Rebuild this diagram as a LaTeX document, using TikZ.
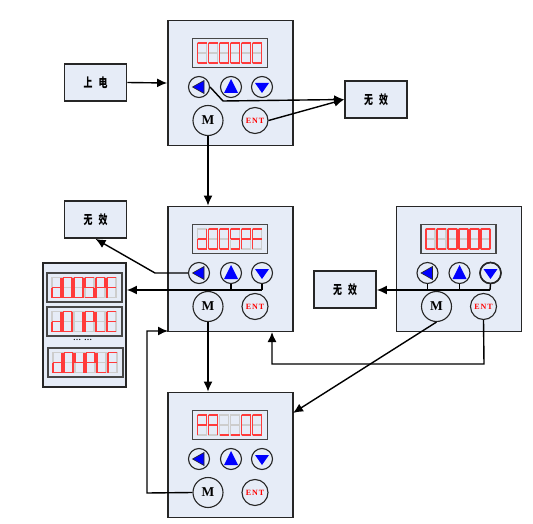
\documentclass[tikz,border=0pt]{standalone}
\usepackage{fontspec}
\usepackage{graphicx}
\setmainfont{Liberation Serif}
\newfontfamily\cjk{Noto Sans CJK SC}
\usetikzlibrary{arrows.meta,calc}
\definecolor{panelfill}{HTML}{E6ECF7}
\definecolor{edge}{HTML}{262626}
\definecolor{ghost}{HTML}{CDCDCD}
\definecolor{segred}{HTML}{FF3B3B}
\def\sega{(0,0)--(9,0)}
\def\segb{(9,0)--(9,10)}
\def\segc{(9,10)--(9,20)}
\def\segd{(0,20)--(9,20)}
\def\sege{(0,10)--(0,20)}
\def\segf{(0,0)--(0,10)}
\def\segg{(0,10)--(9,10)}
\newcommand{\cjktext}[2]{\scalebox{.85}[1.2]{#1}\hspace{6pt}\scalebox{.85}[1.2]{#2}\hspace{10pt}}
\tikzset{
  panelbox/.style={draw=edge,fill=panelfill,line width=1.8pt,minimum width=125pt,minimum height=125pt,inner sep=0pt},
  labelbox/.style={draw=edge,fill=panelfill,line width=1.8pt,minimum width=62pt,minimum height=37pt,inner sep=0pt,font=\cjk\bfseries\fontsize{10.5}{10.5}\selectfont},
  stackbox/.style={draw=edge,fill=panelfill,line width=1.8pt,minimum width=83pt,minimum height=124pt,inner sep=0pt},
  dispbox/.style={draw=edge!85,fill=panelfill,line width=1.3pt,minimum width=75pt,minimum height=29pt,inner sep=0pt},
  smallkey/.style={circle,draw=edge,line width=1.1pt,minimum size=21pt,inner sep=0pt},
  mkey/.style={circle,draw=edge,line width=1.1pt,minimum size=30pt,inner sep=0pt,font=\bfseries\fontsize{13.5}{13.5}\selectfont},
  entkey/.style={circle,draw=edge,line width=1.1pt,minimum size=26pt,inner sep=0pt,text=red,font=\bfseries\fontsize{8}{8}\selectfont},
  tri/.style={fill=blue,draw=none},
  segoff/.style={draw=ghost,line width=1.1pt},
  segon/.style={draw=segred,line width=1.2pt},
  wire/.style={draw=black,line width=1.4pt},
  arrowwire/.style={wire,-{Latex[length=10pt,width=9pt]}}
}
\newcommand{\dispunit}[4]{%
  \node[dispbox] (#1) at (#2+37.5,#3+14.5) {};
  \foreach \dg [count=\ix from 0] in {#4} {
    \begin{scope}[shift={(#2+5+\ix*11,#3+4.5)}]
      \draw[segoff] (0,0) rectangle (9,20) (0,10)--(9,10);
      \foreach \sg in \dg { \draw[segon] \csname seg\sg\endcsname; }
    \end{scope}
  }%
}
\newcommand{\panelunit}[4]{%
  \node[panelbox] (#1) at (#2+62.5,#3+62) {};
  \dispunit{#1d}{#2+24.5}{#3+17.5}{#4}
  \node[smallkey] (#1L) at (#2+31,#3+66) {};
  \node[smallkey] (#1U) at (#2+63,#3+66) {};
  \node[smallkey] (#1D) at (#2+94,#3+66) {};
  \node[mkey] (#1M) at (#2+40,#3+99.5) {M};
  \node[entkey] (#1E) at (#2+87,#3+99.5) {E\hspace{1pt}N\hspace{1pt}T};
  \filldraw[tri,draw=edge,line width=.6pt] ($(#1L)+(-6.5,0)$) -- ($(#1L)+(5,-6.5)$) -- ($(#1L)+(5,6.5)$) -- cycle;
  \fill[tri] ($(#1U)+(-7,6)$) -- ($(#1U)+(7,6)$) -- ($(#1U)+(0,-8)$) -- cycle;
  \fill[tri] ($(#1D)+(-7,-4)$) -- ($(#1D)+(7,-4)$) -- ($(#1D)+(0,6)$) -- cycle;
}
\begin{document}
\begin{tikzpicture}[x=1pt,y=-1pt]
\useasboundingbox (0,0) rectangle (533,524);
\fill[white] (0,0) rectangle (533,524);
\node[labelbox] (power) at (95.5,82.5) {\cjktext{上}{电}};
\node[labelbox] (wxT) at (376,99.5) {\cjktext{无}{效}};
\node[labelbox] (wxL) at (95.5,219.5) {\cjktext{无}{效}};
\node[labelbox] (wxR) at (345,289.5) {\cjktext{无}{效}};
\panelunit{pa}{168}{21}{{a,d,e,f},{a,d,e,f},{a,b,c,d,e,f},{a,b,c,d,e,f},{a,b,c,d,e,f},{a,b,c,d,e,f}}
\panelunit{pb}{168}{207}{{b,c,d,e,g},{a,b,c,d,e,f},{a,b,c,d,e,f},{a,f,g,c,d},{a,b,e,f,g},{a,f,g,e}}
\panelunit{pc}{168}{393}{{a,b,e,f,g},{a,b,c,e,f,g},{d},{d},{a,b,c,d,e,f},{a,b,c,d,e,f}}
\panelunit{pr}{396.5}{207}{{a,d,e,f},{a,d,e,f},{a,b,c,d,e,f},{a,b,c,d,e,f},{a,b,c,d,e,f},{a,b,c,d,e,f}}
\draw[draw=edge,line width=1.6pt] (prD) circle (10.5);
\node[stackbox] (stack) at (84.5,325) {};
\dispunit{sa}{47}{273}{{b,c,d,e,g},{a,b,c,d,e,f},{a,b,c,d,e,f},{a,f,g,c,d},{a,b,e,f,g},{a,f,g,e}}
\dispunit{sb}{47}{307}{{b,c,d,e,g},{a,b,c,d,e,f},{b,c},{a,b,e,f,g},{d,e,f},{a,d,e,f,g}}
\dispunit{sc}{48}{348}{{b,c,d,e,g},{a,b,c,d,e,f},{b,c,f,g},{a,b,e,f,g},{d,e,f},{a,f,g,e}}
\node[font=\bfseries\fontsize{8}{8}\selectfont,inner sep=0pt] (dots) at (82.5,340) {…\hspace{3pt}…};
\coordinate (paBend) at (223,101);
\coordinate (pbBend) at (155,273);
\coordinate (pbBus) at (262,290);
\coordinate (prBus) at (490,290);
\coordinate (pcLeft) at (147,493);
\coordinate (pcUp) at (147,331);
\coordinate (pbIn) at (168,331);
\coordinate (prOutA) at (484,364);
\coordinate (prOutB) at (272,364);
\coordinate (pbBottom) at (272,332);
\coordinate (pcIn) at (293,413);
\draw[arrowwire] (power.east) -- (pa.west);
\draw[arrowwire] (paL.east) -- (paBend) -- (wxT.west);
\draw[arrowwire] (paE.east) -- (wxT.west);
\draw[arrowwire] (paM.south) -- (paM.south |- pb.north);
\draw[arrowwire] (pbL.west) -- (pbBend) -- (wxL.south);
\draw[wire] (pbU.south) -- (pbU.south |- pbBus);
\draw[wire] (pbD.south) -- (pbBus);
\draw[arrowwire] (pbBus) -- (stack.east |- pbBus);
\draw[arrowwire] (pbM.south) -- (pbM.south |- pc.north);
\draw[arrowwire] (pcM.west) -- (pcLeft) -- (pcUp) -- (pbIn);
\draw[wire] (prL.south) -- (prL.south |- prBus);
\draw[wire] (prU.south) -- (prU.south |- prBus);
\draw[wire] (prD.south) -- (prBus);
\draw[arrowwire] (prBus) -- (wxR.east |- prBus);
\draw[arrowwire] (prE.south) -- (prOutA) -- (prOutB) -- (pbBottom);
\draw[arrowwire] (prM.south) -- (pcIn);
\end{tikzpicture}
\end{document}
